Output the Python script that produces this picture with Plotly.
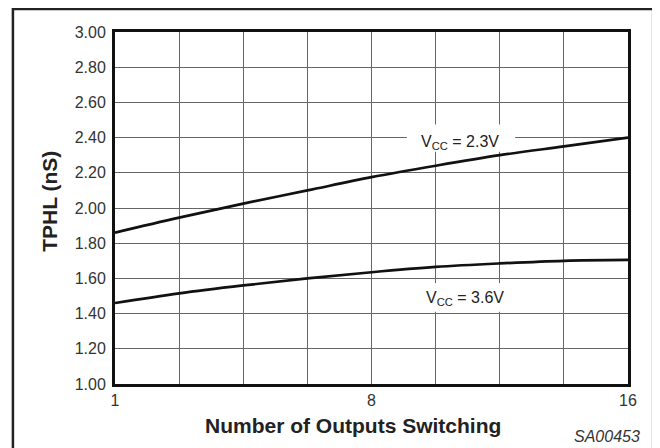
import plotly.graph_objects as go

# grid positions along the x axis (0..8), labelled 1, 8, 16
grid_pos = [0, 1, 2, 3, 4, 5, 6, 7, 8]
tick_text = ["1", "", "", "", "8", "", "", "", "16"]

tphl_vcc_23 = [1.86, 1.945, 2.025, 2.10, 2.175, 2.24, 2.30, 2.35, 2.40]
tphl_vcc_36 = [1.46, 1.515, 1.56, 1.60, 1.635, 1.665, 1.685, 1.70, 1.705]

y_ticks = [1.0, 1.2, 1.4, 1.6, 1.8, 2.0, 2.2, 2.4, 2.6, 2.8, 3.0]

FONT = "Liberation Sans, Arial, sans-serif"

fig = go.Figure()
for ys in (tphl_vcc_23, tphl_vcc_36):
    fig.add_trace(go.Scatter(x=grid_pos, y=ys, mode="lines",
                             line=dict(color="#111", width=2.7, shape="spline"),
                             showlegend=False, hoverinfo="skip"))

# the page body adds 8px, so the figure is a bit smaller than the window
fig.update_layout(
    width=652, height=440,
    margin=dict(l=107, r=32, t=24, b=64),
    paper_bgcolor="white", plot_bgcolor="white",
    font=dict(family=FONT, size=16, color="#333"),
)

fig.update_xaxes(range=[0, 8], tickvals=grid_pos, ticktext=tick_text,
                 showgrid=True, gridcolor="#666", gridwidth=1,
                 showline=True, linecolor="#111", linewidth=3, mirror=True,
                 ticks="", zeroline=False, fixedrange=True)
fig.update_yaxes(range=[1.0, 3.0], tickvals=y_ticks, tickformat=".2f",
                 showgrid=True, gridcolor="#666", gridwidth=1,
                 showline=True, linecolor="#111", linewidth=3, mirror=True,
                 ticks="outside", ticklen=3, tickcolor="white",
                 zeroline=False, fixedrange=True)

# outer frame (open at the bottom, runs off the image)
fig.add_shape(type="path", xref="paper", yref="paper",
              path="M -0.199,-0.25 L -0.199,1.065 L 1.049,1.065 L 1.049,-0.25",
              line=dict(color="#222", width=2.5))

# white patches behind the curve labels: over the grid, under the curves
fig.add_shape(type="rect", xref="x", yref="y", x0=4.55, x1=6.24, y0=2.32, y1=2.474,
              fillcolor="white", line_width=0, layer="between")
fig.add_shape(type="rect", xref="x", yref="y", x0=4.75, x1=6.15, y0=1.41, y1=1.574,
              fillcolor="white", line_width=0, layer="between")

# curve labels
fig.add_annotation(x=5.38, y=2.37, xref="x", yref="y",
                   text="V<sub>CC</sub> = 2.3V", showarrow=False,
                   font=dict(family=FONT, size=16, color="#222"))
fig.add_annotation(x=5.46, y=1.487, xref="x", yref="y",
                   text="V<sub>CC</sub> = 3.6V", showarrow=False,
                   font=dict(family=FONT, size=16, color="#222"))

# axis titles
fig.add_annotation(x=0.463, y=-0.117, xref="paper", yref="paper",
                   text="<b>Number of Outputs Switching</b>", showarrow=False,
                   yanchor="middle", font=dict(family=FONT, size=21, color="#222"))
fig.add_annotation(x=-0.127, y=0.52, xref="paper", yref="paper",
                   text="<b>TPHL (nS)</b>", showarrow=False, textangle=-90,
                   xanchor="center", font=dict(family=FONT, size=21, color="#222"))
fig.add_annotation(x=1.027, y=-0.15, xref="paper", yref="paper",
                   text="<i>SA00453</i>", showarrow=False, xanchor="right",
                   yanchor="middle", font=dict(family=FONT, size=16, color="#333"))

fig.write_html("out.html")
